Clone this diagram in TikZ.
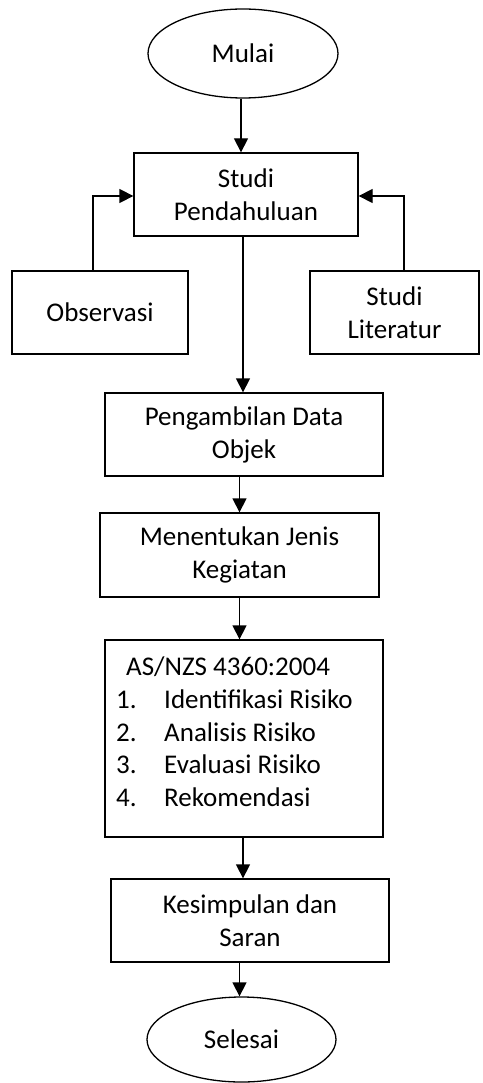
\documentclass[tikz,border=0pt]{standalone}
\usepackage{fontspec}
\setmainfont{Carlito}
\usetikzlibrary{shapes.geometric,arrows.meta}
\begin{document}
\begin{tikzpicture}[x=1pt,y=-1pt,
  every node/.style={font=\fontsize{27}{33}\selectfont},
  boxnode/.style={draw,line width=1.3pt,rectangle,inner sep=0pt,align=center},
  ovalnode/.style={draw,line width=1.3pt,ellipse,inner sep=0pt},
  itemtext/.style={anchor=base west,inner sep=0pt},
  arr/.style={line width=1.3pt,-{Triangle[length=14pt,width=14pt]}}]
\useasboundingbox (0,0) rectangle (482,1083);
\node[ovalnode,minimum width=190pt,minimum height=89pt] (mulai) at (243,53.5) {Mulai};
\node[boxnode,minimum width=224pt,minimum height=83pt] (sp) at (246,194.5) {Studi\\Pendahuluan};
\node[boxnode,minimum width=176pt,minimum height=83pt] (obs) at (100,312.5) {Observasi};
\node[boxnode,minimum width=169pt,minimum height=83pt] (lit) at (394.5,312.5) {Studi\\Literatur};
\node[boxnode,minimum width=278pt,minimum height=83pt] (pd) at (244,434.5) {Pengambilan Data\\Objek};
\node[boxnode,minimum width=279pt,minimum height=84pt] (mj) at (239.5,555) {Menentukan Jenis\\Kegiatan};
\node[boxnode,minimum width=278pt,minimum height=197pt] (as) at (244,738.5) {};
\node[itemtext] (ast) at (126,675) {AS/NZS 4360:2004};
\node[itemtext] (n1) at (116,708) {1.};
\node[itemtext] (t1) at (164,708) {Identifikasi Risiko};
\node[itemtext] (n2) at (116,741) {2.};
\node[itemtext] (t2) at (164,741) {Analisis Risiko};
\node[itemtext] (n3) at (116,773.5) {3.};
\node[itemtext] (t3) at (164,773.5) {Evaluasi Risiko};
\node[itemtext] (n4) at (116,806) {4.};
\node[itemtext] (t4) at (164,806) {Rekomendasi};
\node[boxnode,minimum width=278pt,minimum height=83pt] (ks) at (250,920.5) {Kesimpulan dan\\Saran};
\node[ovalnode,minimum width=189pt,minimum height=85pt] (sel) at (241.5,1039.5) {Selesai};
\draw[arr] ([xshift=-2pt]mulai.south) -- ([xshift=-2pt]mulai.south |- sp.north);
\draw[arr] ([xshift=-1pt]pd.north |- sp.south) -- ([xshift=-1pt]pd.north);
\draw[arr] (mj.north |- pd.south) -- (mj.north);
\draw[arr] (mj.south) -- (mj.south |- as.north);
\draw[arr] ([xshift=-1pt]as.south) -- ([xshift=-1pt]as.south |- ks.north);
\draw[arr] ([xshift=-2pt]sel.north |- ks.south) -- ([xshift=-2pt]sel.north);
\draw[arr] ([xshift=-7pt]obs.north) |- ([yshift=-1.5pt]sp.west);
\draw[arr] ([xshift=9.5pt]lit.north) |- ([yshift=-1.5pt]sp.east);
\end{tikzpicture}
\end{document}
